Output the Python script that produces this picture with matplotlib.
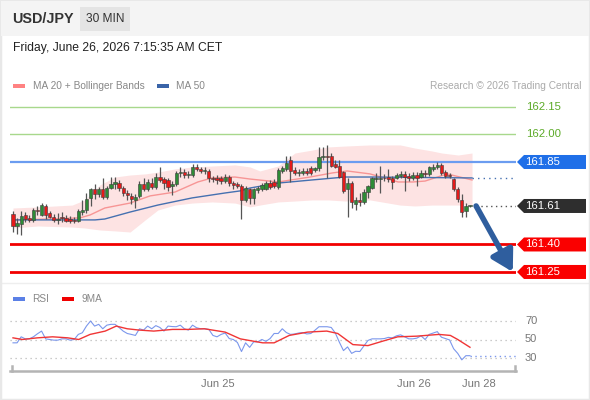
import matplotlib
matplotlib.use("Agg")
import matplotlib.pyplot as plt
from matplotlib.patches import Rectangle, Polygon
from matplotlib.transforms import blended_transform_factory
import numpy as np

plt.rcParams['font.family'] = ['Liberation Sans', 'DejaVu Sans']

####################### chart data #######################
# 30 min candles, index 0 = first candle on the left
opens = [161.565, 161.500, 161.510, 161.560, 161.545, 161.535, 161.590, 161.560, 161.610, 161.570,
         161.550, 161.535, 161.550, 161.545, 161.540, 161.535, 161.530, 161.575, 161.590, 161.655,
         161.700, 161.675, 161.705, 161.660, 161.710, 161.730, 161.735, 161.710, 161.680, 161.665,
         161.640, 161.665, 161.730, 161.705, 161.735, 161.715, 161.770, 161.755, 161.750, 161.720,
         161.730, 161.790, 161.795, 161.780, 161.780, 161.825, 161.810, 161.800, 161.800, 161.760,
         161.765, 161.760, 161.745, 161.770, 161.735, 161.730, 161.720, 161.640, 161.700, 161.655,
         161.695, 161.700, 161.705, 161.735, 161.740, 161.715, 161.800, 161.810, 161.860, 161.805,
         161.790, 161.790, 161.800, 161.815, 161.805, 161.815, 161.875, 161.880, 161.885, 161.840,
         161.830, 161.795, 161.705, 161.735, 161.620, 161.645, 161.630, 161.685, 161.710, 161.755,
         161.755, 161.760, 161.770, 161.760, 161.765, 161.775, 161.785, 161.775, 161.765, 161.780,
         161.770, 161.790, 161.785, 161.810, 161.820, 161.835, 161.795, 161.780, 161.755, 161.705,
         161.640, 161.585, 161.610]
highs = [161.580, 161.545, 161.580, 161.575, 161.560, 161.600, 161.610, 161.625, 161.620, 161.585,
         161.565, 161.570, 161.575, 161.560, 161.555, 161.550, 161.595, 161.640, 161.680, 161.710,
         161.730, 161.715, 161.760, 161.720, 161.770, 161.770, 161.750, 161.720, 161.695, 161.680,
         161.675, 161.745, 161.760, 161.755, 161.760, 161.790, 161.820, 161.770, 161.760, 161.745,
         161.800, 161.820, 161.810, 161.800, 161.840, 161.840, 161.825, 161.820, 161.810, 161.775,
         161.780, 161.775, 161.785, 161.780, 161.745, 161.740, 161.730, 161.720, 161.710, 161.710,
         161.720, 161.735, 161.745, 161.750, 161.755, 161.815, 161.830, 161.880, 161.880, 161.820,
         161.810, 161.815, 161.815, 161.830, 161.825, 161.930, 161.930, 161.940, 161.900, 161.860,
         161.860, 161.800, 161.760, 161.745, 161.660, 161.680, 161.700, 161.725, 161.770, 161.790,
         161.830, 161.785, 161.810, 161.775, 161.790, 161.800, 161.800, 161.790, 161.795, 161.795,
         161.805, 161.805, 161.830, 161.840, 161.850, 161.845, 161.805, 161.790, 161.765, 161.715,
         161.675, 161.625, 161.615]
lows = [161.470, 161.455, 161.450, 161.520, 161.520, 161.525, 161.560, 161.555, 161.540, 161.545,
        161.525, 161.510, 161.525, 161.520, 161.515, 161.515, 161.520, 161.560, 161.570, 161.610,
        161.650, 161.660, 161.650, 161.650, 161.700, 161.705, 161.690, 161.665, 161.640, 161.620,
        161.600, 161.655, 161.690, 161.690, 161.700, 161.700, 161.740, 161.700, 161.690, 161.670,
        161.720, 161.770, 161.760, 161.760, 161.770, 161.800, 161.790, 161.785, 161.740, 161.740,
        161.730, 161.730, 161.735, 161.720, 161.700, 161.710, 161.540, 161.630, 161.620, 161.620,
        161.680, 161.690, 161.695, 161.700, 161.710, 161.705, 161.790, 161.800, 161.740, 161.780,
        161.775, 161.780, 161.780, 161.780, 161.795, 161.800, 161.860, 161.760, 161.820, 161.815,
        161.760, 161.680, 161.550, 161.600, 161.590, 161.610, 161.620, 161.655, 161.700, 161.740,
        161.680, 161.745, 161.740, 161.700, 161.755, 161.765, 161.690, 161.745, 161.750, 161.720,
        161.760, 161.770, 161.775, 161.800, 161.810, 161.780, 161.760, 161.760, 161.690, 161.630,
        161.550, 161.550, 161.605]
closes = [161.500, 161.515, 161.555, 161.540, 161.535, 161.590, 161.585, 161.615, 161.560, 161.550,
          161.535, 161.540, 161.545, 161.530, 161.530, 161.530, 161.580, 161.590, 161.650, 161.700,
          161.675, 161.700, 161.660, 161.710, 161.730, 161.740, 161.710, 161.680, 161.670, 161.650,
          161.660, 161.730, 161.705, 161.740, 161.715, 161.770, 161.750, 161.735, 161.715, 161.730,
          161.790, 161.795, 161.780, 161.785, 161.825, 161.810, 161.800, 161.800, 161.760, 161.755,
          161.750, 161.745, 161.770, 161.735, 161.725, 161.720, 161.645, 161.710, 161.655, 161.700,
          161.710, 161.725, 161.735, 161.715, 161.720, 161.805, 161.815, 161.845, 161.800, 161.790,
          161.795, 161.800, 161.790, 161.790, 161.815, 161.875, 161.885, 161.875, 161.830, 161.825,
          161.770, 161.690, 161.735, 161.630, 161.645, 161.630, 161.685, 161.720, 161.760, 161.760,
          161.765, 161.765, 161.755, 161.740, 161.780, 161.785, 161.770, 161.760, 161.780, 161.765,
          161.790, 161.785, 161.820, 161.825, 161.835, 161.790, 161.775, 161.775, 161.705, 161.650,
          161.575, 161.610, 161.610]

# indicator lines (candle index, price)
ma20_x = [0, 9.1, 16.4, 18.9, 22.5, 28.7, 33.6, 39.7, 45.3, 48.8, 54.4, 58.1, 65, 72.8, 78.2,
          81.9, 87.5, 94.4, 98, 101, 106.4, 112.5]
ma20_y = [161.534, 161.539, 161.545, 161.561, 161.599, 161.626, 161.665, 161.686, 161.741, 161.763,
          161.768, 161.757, 161.741, 161.768, 161.790, 161.801, 161.785, 161.741, 161.741, 161.746,
          161.785, 161.752]
ma50_x = [0, 20.1, 22.5, 28.7, 35.5, 43.9, 52, 55.6, 58.1, 65, 73.3, 81.4, 87.5, 112.5]
ma50_y = [161.534, 161.534, 161.539, 161.577, 161.615, 161.654, 161.681, 161.692, 161.708, 161.735,
          161.752, 161.768, 161.768, 161.763]
bb_x = [0, 6.1, 14.5, 17.6, 21.3, 25, 28.7, 32.4, 35.5, 39.7, 43.9, 48.8, 54.4, 58.1, 60.5, 65,
        69.1, 73.3, 77.2, 81.4, 87.5, 94.9, 98.5, 102.7, 105.1, 109.1, 112.5]
bb_upper = [161.599, 161.605, 161.615, 161.643, 161.725, 161.768, 161.779, 161.785, 161.795, 161.812,
            161.823, 161.828, 161.834, 161.823, 161.801, 161.828, 161.899, 161.915, 161.932, 161.937,
            161.943, 161.943, 161.926, 161.910, 161.899, 161.888, 161.899]
bb_lower = [161.490, 161.501, 161.495, 161.490, 161.479, 161.474, 161.468, 161.534, 161.588, 161.615,
            161.626, 161.632, 161.626, 161.605, 161.615, 161.632, 161.637, 161.643, 161.643, 161.637,
            161.643, 161.615, 161.610, 161.615, 161.615, 161.615, 161.615]

rsi = [46.4, 46.4, 52.9, 50.7, 50.7, 52.9, 56.2, 59.1, 50.7, 50.0,
       49.3, 49.3, 50.7, 50.7, 49.3, 50.0, 55.5, 57.3, 64.5, 70.0,
       64.5, 66.4, 61.6, 65.5, 66.4, 66.4, 63.0, 59.1, 56.5, 55.5,
       54.4, 61.6, 60.2, 64.5, 61.6, 65.0, 63.0, 59.1, 64.5, 64.0,
       63.8, 65.5, 61.6, 60.2, 65.5, 62.7, 61.6, 61.6, 60.9, 54.4,
       52.9, 55.5, 57.0, 51.0, 50.0, 46.8, 37.0, 46.4, 41.5, 47.5,
       47.5, 50.0, 48.0, 51.0, 56.5, 56.5, 61.6, 57.5, 55.5, 56.0,
       57.0, 57.5, 56.0, 56.5, 60.0, 63.8, 63.8, 63.8, 63.0, 57.0,
       47.0, 38.0, 42.0, 35.0, 37.3, 37.0, 43.0, 49.0, 50.7, 50.7,
       50.7, 51.0, 52.3, 51.8, 54.0, 55.0, 52.9, 50.7, 50.7, 51.5,
       54.0, 50.0, 55.5, 57.0, 58.5, 52.5, 51.0, 49.5, 40.0, 35.0,
       28.0, 32.5, 32.5]
rsi_ma_x = [0, 2.3, 6, 9.7, 13.4, 16.1, 18.9, 22.6, 25.3, 28, 30.9, 34.5, 39.1, 42.8, 46.9, 52,
            55.7, 61.2, 64, 67.7, 72.2, 76.9, 79.6, 83.3, 87, 90.6, 94.3, 98.9, 104.4, 107.2, 109, 112]
rsi_ma_y = [51.8, 50.0, 51.8, 52.9, 51.8, 50.0, 55.5, 59.1, 64.5, 61.6, 60.2, 59.1, 60.9, 60.9, 61.6, 58.0,
            50.7, 46.4, 46.4, 54.4, 58.0, 59.1, 56.5, 44.5, 43.4, 48.2, 52.9, 53.6, 55.5, 54.4, 50.0, 41.6]

levels_green = [162.15, 162.00]
resistance = 161.85
last_price = 161.61
supports = [161.40, 161.25]
rsi_levels = [70, 50, 30]
date_ticks = [50.2, 98.3, 114.2]
date_labels = ["Jun 25", "Jun 26", "Jun 28"]
##########################################################

W, H = 590, 400
fig = plt.figure(figsize=(W / 100, H / 100), dpi=100, facecolor='white')


def px_rect(left, top, w, h):
    return [left / W, 1 - (top + h) / H, w / W, h / H]


def fx(x):
    return x / W


def fy(y):
    return 1 - y / H


# frame + header (kept below the axes)
fig.patches.append(Rectangle((0, 0), 1, 1, transform=fig.transFigure, fc='none',
                             ec='#e8e8e8', lw=2.5, zorder=-5))
fig.patches.append(Rectangle((fx(1), fy(36)), fx(588), 35 / H, transform=fig.transFigure,
                             fc='#f4f4f4', ec='none', zorder=-5))
fig.patches.append(Rectangle((fx(80), fy(31)), fx(50), 24 / H, transform=fig.transFigure,
                             fc='#e4e4e4', ec='none', zorder=-4))
fig.text(fx(12), fy(19), "USD/JPY", fontsize=10.4, fontweight='bold', color='#333333', va='center')
fig.text(fx(105), fy(19), "30 MIN", fontsize=8.6, color='#333333', va='center', ha='center')
fig.text(fx(13), fy(48), "Friday, June 26, 2026 7:15:35 AM CET", fontsize=8.7, color='#222222', va='center')

# legend row
fig.patches.append(Rectangle((fx(13), fy(88)), fx(12), 4 / H, transform=fig.transFigure,
                             fc='#ff8282', ec='none'))
fig.text(fx(33), fy(86), "MA 20 + Bollinger Bands", fontsize=7.3, color='#888888', va='center')
fig.patches.append(Rectangle((fx(157), fy(88)), fx(12), 4 / H, transform=fig.transFigure,
                             fc='#3a64a8', ec='none'))
fig.text(fx(176), fy(86), "MA 50", fontsize=7.3, color='#888888', va='center')
fig.text(fx(581), fy(86), "Research \u00a9 2026 Trading Central", fontsize=7.3, color='#aaaaaa',
         va='center', ha='right')

# separator between panels
fig.lines.append(plt.Line2D([0, 1], [fy(283), fy(283)], transform=fig.transFigure,
                            color='#eeeeee', lw=1, zorder=-5))

# price panel
px_per_price = 183.3
px_per_idx = 4.08
x0_idx = (10 - 13) / px_per_idx
x1_idx = (516 - 13) / px_per_idx

ax = fig.add_axes(px_rect(10, 96, 506, 188))
ax.set_zorder(2)
ax.set_xlim(x0_idx, x1_idx)
ax.set_ylim(162.15 - (284 - 107) / px_per_price, 162.15 + (107 - 96) / px_per_price)
ax.axis('off')

ax.fill_between(bb_x, bb_lower, bb_upper, color='#fde3e3', lw=0, zorder=1)
ax.plot(ma20_x, ma20_y, color='#f79595', lw=1.0, zorder=2)
ax.plot(ma50_x, ma50_y, color='#4570b0', lw=1.0, zorder=2)
ax.plot([ma50_x[-1], x1_idx], [ma50_y[-1], ma50_y[-1]], color='#4570b0', lw=1.0,
        ls=(0, (1, 3)), zorder=2)

for lv in levels_green:
    ax.axhline(lv, color='#a8d88c', lw=1.0, zorder=1)
ax.axhline(resistance, color='#6b9cf0', lw=1.6, zorder=1)
for lv in supports:
    ax.axhline(lv, color='#f20000', lw=2.0, zorder=1)

idx = np.arange(len(closes))
o = np.array(opens)
c = np.array(closes)
up = c >= o
ax.vlines(idx, lows, highs, color='#555555', lw=0.9, zorder=3)
body_h = np.maximum(np.abs(c - o), 0.004)
ax.bar(idx[up], body_h[up], bottom=np.minimum(o, c)[up], width=0.8, color='#2e8b36',
       edgecolor='#3c3c3c', lw=0.4, zorder=4)
ax.bar(idx[~up], body_h[~up], bottom=np.minimum(o, c)[~up], width=0.8, color='#e41a1a',
       edgecolor='#3c3c3c', lw=0.4, zorder=4)

# last price dotted line
ax.plot([len(closes) + 0.5, x1_idx], [last_price, last_price], color='#555555', lw=1.0,
        ls=(0, (1, 2.5)), zorder=2)

# forecast arrow
ax.annotate("", xy=(122.5, 161.25), xytext=(113.5, last_price),
            arrowprops=dict(arrowstyle='-|>,head_length=0.95,head_width=0.55', lw=4.0,
                            color='#2f5e9e', mutation_scale=13, shrinkA=0, shrinkB=0),
            zorder=6, annotation_clip=False)

# price tags on the right
trans = blended_transform_factory(fig.transFigure, ax.transData)
hh = 7 / px_per_price


def draw_tag(price, color):
    pts = [(fx(517), price), (fx(524), price + hh), (fx(586), price + hh),
           (fx(586), price - hh), (fx(524), price - hh)]
    ax.add_patch(Polygon(pts, closed=True, transform=trans, fc=color, ec='none', clip_on=False))
    ax.text(fx(525), price, "%.2f" % price, transform=trans, color='white', fontsize=8.2,
            va='center', ha='left', clip_on=False)


for lv in levels_green:
    ax.text(fx(526), lv, "%.2f" % lv, transform=trans, color='#5caa28', fontsize=8.2,
            va='center', ha='left')
draw_tag(resistance, '#1f6fe8')
draw_tag(last_price, '#2e2e2e')
for lv in supports:
    draw_tag(lv, '#fa0000')

# RSI panel
fig.patches.append(Rectangle((fx(13), fy(301)), fx(12), 4 / H, transform=fig.transFigure,
                             fc='#5b80e6', ec='none'))
fig.text(fx(32), fy(299), "RSI", fontsize=7.3, color='#888888', va='center')
fig.patches.append(Rectangle((fx(62), fy(301)), fx(12), 4 / H, transform=fig.transFigure,
                             fc='#f00000', ec='none'))
fig.text(fx(81), fy(299), "9MA", fontsize=7.3, color='#888888', va='center')

rsi_px = 0.925
ax2 = fig.add_axes(px_rect(10, 311, 506, 60))
ax2.set_zorder(2)
ax2.patch.set_visible(False)
ax2.set_xlim(x0_idx, x1_idx)
ax2.set_ylim(30 - 13 / rsi_px, 70 + 10 / rsi_px)
for s in ['top', 'left', 'right']:
    ax2.spines[s].set_visible(False)
ax2.spines['bottom'].set_color('#b4b4b4')
ax2.spines['bottom'].set_linewidth(1.8)
ax2.set_yticks([])
ax2.set_xticks(date_ticks)
ax2.set_xticklabels(date_labels, fontsize=8, color='#777777')
ax2.tick_params(axis='x', length=0, pad=6)
for xe in [0.004, 0.999]:
    ax2.plot([xe, xe], [0, 0.09], transform=ax2.transAxes, color='#b4b4b4', lw=1.8, clip_on=False)

for lv in rsi_levels:
    ax2.axhline(lv, color='#bbbbbb', lw=0.9, ls=(0, (1, 3)))
    ax2.text(fx(525), lv, str(lv), transform=blended_transform_factory(fig.transFigure, ax2.transData),
             fontsize=8, color='#777777', va='center', ha='left')

ax2.plot(idx, rsi, color='#7b97ec', lw=0.8, zorder=3)
ax2.plot([idx[-1], x1_idx], [rsi[-1], rsi[-1]], color='#7b97ec', lw=1.0, ls=(0, (1, 2.5)), zorder=3)
ax2.plot(rsi_ma_x, rsi_ma_y, color='#f03535', lw=1.0, zorder=4)

fig.savefig("out.png", dpi=100)
